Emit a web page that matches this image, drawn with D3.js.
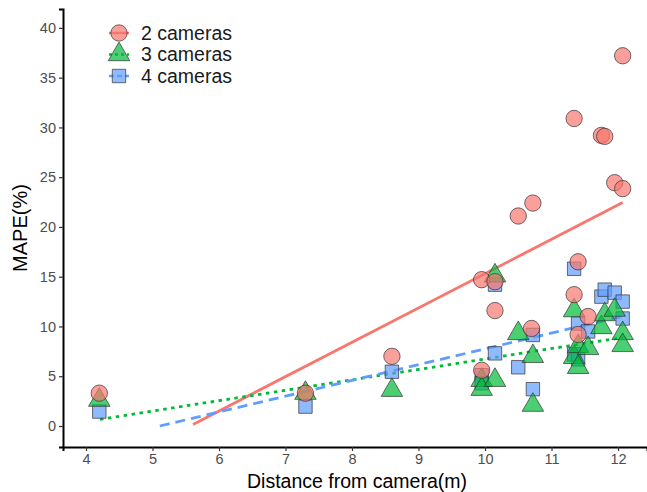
<!DOCTYPE html>
<html><head><meta charset="utf-8">
<script src="https://cdn.jsdelivr.net/npm/d3@7"></script>
<style>body{margin:0;background:#fff}svg{display:block}text{font-family:"Liberation Sans",Arial,sans-serif}</style>
</head><body>
<script>
// Data
const series = ["2 cameras", "3 cameras", "4 cameras"];
const cam2X = [4.2,7.3,8.6,9.95,9.95,10.15,10.15,10.5,10.72,10.7,11.34,11.34,11.4,11.4,11.55,11.75,11.8,11.95,12.07,12.07];
const cam2Y = [3.3,3.3,7.0,14.7,5.6,14.5,11.6,21.1,22.4,9.8,30.9,13.2,16.5,9.2,11.0,29.2,29.1,24.45,23.85,37.2];
const cam3X = [4.2,7.3,8.6,9.95,9.95,10.15,10.15,10.5,10.72,10.72,11.34,11.34,11.4,11.4,11.55,11.75,11.8,11.95,12.07,12.07];
const cam3Y = [2.6,3.3,3.6,4.6,3.7,15.1,4.6,9.3,7.0,2.1,11.6,6.9,8.0,5.9,7.8,9.9,11.2,11.65,9.3,8.1];
const cam4X = [4.2,7.3,8.6,9.95,9.95,10.15,10.15,10.5,10.72,10.72,11.34,11.34,11.4,11.4,11.55,11.75,11.8,11.95,12.07,12.07];
const cam4Y = [1.45,1.95,5.45,5.1,4.3,14.2,7.3,5.9,9.15,3.7,15.8,7.2,10.3,6.7,9.5,13.0,13.7,13.4,12.5,10.8];
// fitted lines (start/end)
const fit2 = [[5.61,0.16],[12.07,22.45]];
const fit3 = [[4.21,0.67],[12.07,8.9]];
const fit4 = [[5.11,0.0],[12.08,11.05]];
const xTicks = [4,5,6,7,8,9,10,11,12];
const yTicks = [0,5,10,15,20,25,30,35,40];

const W = 647, H = 492;
const svg = d3.select("body").append("svg").attr("width", W).attr("height", H);
const x = d3.scaleLinear().domain([3.654, 12.436]).range([63, 647]);
const y = d3.scaleLinear().domain([-2.11, 41.9]).range([447, 9]);

const colors = ["#F8766D", "#00BA38", "#619CFF"];
const dashes = [null, "3.5,4.5", "10,6"];

// axes
const xAxis = svg.append("g").attr("transform", "translate(0,447)")
  .call(d3.axisBottom(x).tickValues(xTicks).tickSize(4).tickPadding(3).tickFormat(d3.format("d")));
const yAxis = svg.append("g").attr("transform", "translate(63,0)")
  .call(d3.axisLeft(y).tickValues(yTicks).tickSize(4).tickPadding(3).tickFormat(d3.format("d")));
[xAxis, yAxis].forEach(g => {
  g.select(".domain").attr("stroke", "#000").attr("stroke-width", 2);
  g.selectAll(".tick line").attr("stroke", "#333").attr("stroke-width", 1.2);
  g.selectAll(".tick text").attr("fill", "#4D4D4D").style("font-size", "14.5px");
});

svg.append("text").attr("x", 357).attr("y", 488).attr("text-anchor", "middle")
  .style("font-size", "19.5px").attr("fill", "#000").text("Distance from camera(m)");
svg.append("text").attr("transform", "translate(27,228) rotate(-90)").attr("text-anchor", "middle")
  .style("font-size", "20px").attr("fill", "#000").text("MAPE(%)");

// lines
const fits = [fit2, fit3, fit4];
const line = d3.line().x(d => x(d[0])).y(d => y(d[1]));
const plot = svg.append("g");
fits.forEach((f, i) => {
  plot.append("path").attr("d", line(f)).attr("fill", "none")
    .attr("stroke", colors[i]).attr("stroke-width", 2.8)
    .attr("stroke-dasharray", dashes[i]);
});

const sym = [d3.symbolCircle, d3.symbolTriangle, d3.symbolSquare];
const sizes = [210, 200, 180];
const data = [
  cam2X.map((v, i) => [v, cam2Y[i]]),
  cam3X.map((v, i) => [v, cam3Y[i]]),
  cam4X.map((v, i) => [v, cam4Y[i]])
];
const order = [2, 1, 0];
order.forEach(s => {
  plot.append("g").selectAll("path").data(data[s]).join("path")
    .attr("transform", d => `translate(${x(d[0])},${y(d[1])})`)
    .attr("d", d3.symbol().type(sym[s]).size(sizes[s]))
    .attr("fill", colors[s]).attr("fill-opacity", 0.7)
    .attr("stroke", "#333").attr("stroke-opacity", 0.7).attr("stroke-width", 1);
});

// legend
const lg = svg.append("g");
series.forEach((name, i) => {
  const cy = 33 + i * 21.5;
  lg.append("line").attr("x1", 109).attr("x2", 129).attr("y1", cy).attr("y2", cy)
    .attr("stroke", colors[i]).attr("stroke-width", 2.5)
    .attr("stroke-dasharray", i === 2 ? "5,3" : (i === 1 ? "3,3" : null));
  lg.append("path").attr("transform", `translate(119,${cy})`)
    .attr("d", d3.symbol().type(sym[i]).size(sizes[i]))
    .attr("fill", colors[i]).attr("fill-opacity", 0.7)
    .attr("stroke", "#333").attr("stroke-opacity", 0.7);
  lg.append("text").attr("x", 141).attr("y", cy).attr("dy", "0.35em")
    .style("font-size", "19.5px").attr("fill", "#1a1a1a").text(name);
});
</script>
</body></html>
